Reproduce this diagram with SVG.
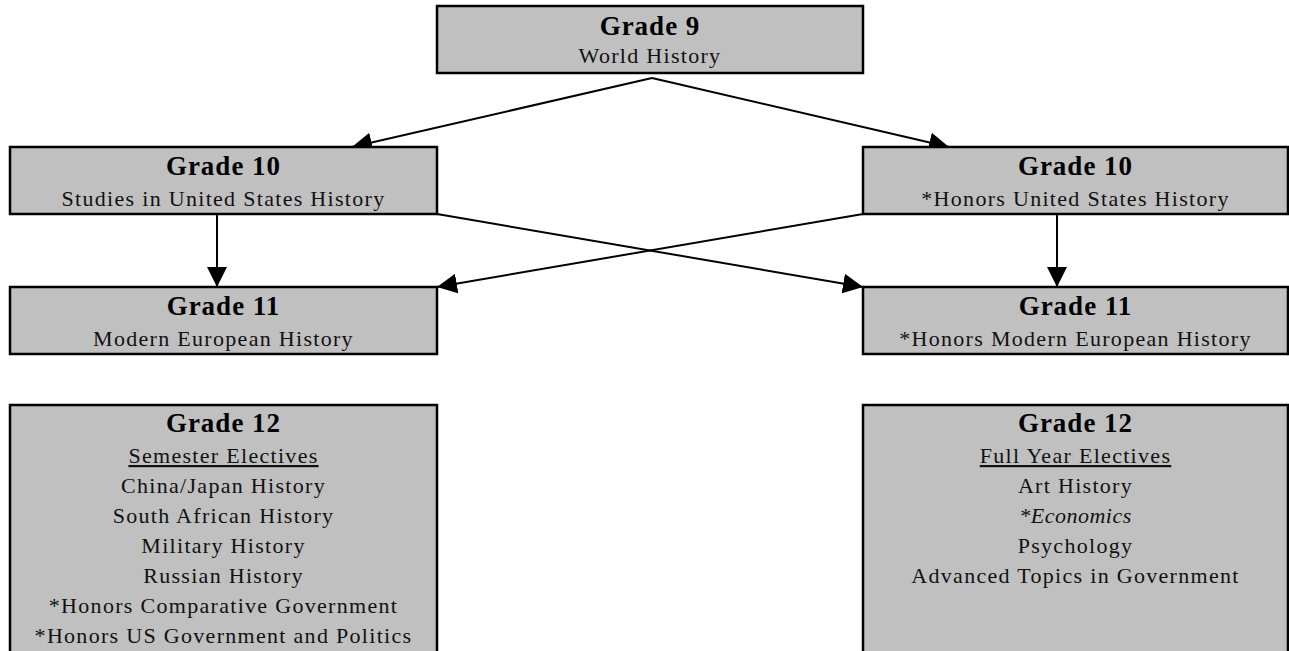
<svg xmlns="http://www.w3.org/2000/svg" width="1289" height="651" viewBox="0 0 1289 651">
<style>
.box{fill:#c0c0c0;stroke:#000;stroke-width:2.5}
.t{font-family:"Liberation Serif","Times New Roman",serif;font-weight:bold;font-size:27px;letter-spacing:1px;text-anchor:middle;fill:#000}
.s{font-family:"Liberation Serif","Times New Roman",serif;font-size:22px;letter-spacing:1.3px;text-anchor:middle;fill:#111}
.u{text-decoration:underline}
.i{font-style:italic;letter-spacing:0.5px}
.c{fill:none;stroke:#000;stroke-width:2}
</style>
<defs>
<marker id="ah" markerUnits="userSpaceOnUse" markerWidth="21" markerHeight="20" refX="20" refY="10" orient="auto">
<path d="M0,0 L20,10 L0,20 z" fill="#000"/>
</marker>
</defs>
<g id="connectors">
<line class="c" x1="652" y1="78" x2="352" y2="147" marker-end="url(#ah)"/>
<line class="c" x1="652" y1="78" x2="949" y2="147" marker-end="url(#ah)"/>
<line class="c" x1="217" y1="214" x2="217" y2="287" marker-end="url(#ah)"/>
<line class="c" x1="1057" y1="214" x2="1057" y2="287" marker-end="url(#ah)"/>
<line class="c" x1="437" y1="214" x2="863" y2="287" marker-end="url(#ah)"/>
<line class="c" x1="863" y1="214" x2="437" y2="287" marker-end="url(#ah)"/>
</g>
<g id="g9">
<rect class="box" x="437" y="6" width="426" height="67"/>
<text class="t" x="650" y="35">Grade 9</text>
<text class="s" x="650" y="63">World History</text>
</g>
<g id="g10a">
<rect class="box" x="10" y="147" width="427" height="67"/>
<text class="t" x="223.5" y="175">Grade 10</text>
<text class="s" x="223.5" y="206">Studies in United States History</text>
</g>
<g id="g10b">
<rect class="box" x="863" y="147" width="425" height="67"/>
<text class="t" x="1075.5" y="175">Grade 10</text>
<text class="s" x="1075.5" y="206">*Honors United States History</text>
</g>
<g id="g11a">
<rect class="box" x="10" y="287" width="427" height="67"/>
<text class="t" x="223.5" y="315">Grade 11</text>
<text class="s" x="223.5" y="346">Modern European History</text>
</g>
<g id="g11b">
<rect class="box" x="863" y="287" width="425" height="67"/>
<text class="t" x="1075.5" y="315">Grade 11</text>
<text class="s" x="1075.5" y="346">*Honors Modern European History</text>
</g>
<g id="g12a">
<rect class="box" x="10" y="405" width="427" height="260"/>
<text class="t" x="223.5" y="432">Grade 12</text>
<text class="s u" x="223.5" y="463">Semester Electives</text>
<text class="s" x="223.5" y="493">China/Japan History</text>
<text class="s" x="223.5" y="523">South African History</text>
<text class="s" x="223.5" y="553">Military History</text>
<text class="s" x="223.5" y="583">Russian History</text>
<text class="s" x="223.5" y="613">*Honors Comparative Government</text>
<text class="s" x="223.5" y="643">*Honors US Government and Politics</text>
</g>
<g id="g12b">
<rect class="box" x="863" y="405" width="425" height="260"/>
<text class="t" x="1075.5" y="432">Grade 12</text>
<text class="s u" x="1075.5" y="463">Full Year Electives</text>
<text class="s" x="1075.5" y="493">Art History</text>
<text class="s i" x="1075.5" y="523">*Economics</text>
<text class="s" x="1075.5" y="553">Psychology</text>
<text class="s" x="1075.5" y="583">Advanced Topics in Government</text>
</g>
</svg>
